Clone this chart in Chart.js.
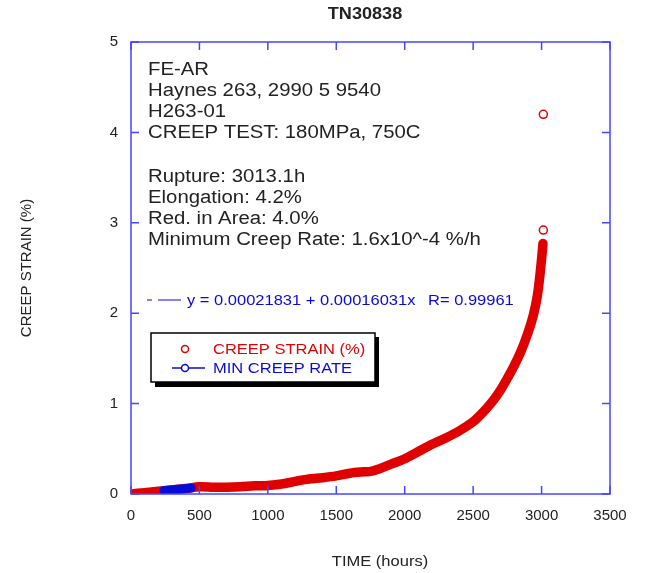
<!DOCTYPE html>
<html lang="en">
<head>
    <meta charset="UTF-8">
    <title>TN30838 Creep Test</title>
    <style>
        body {
            margin: 0;
            padding: 0;
            background-color: white;
        }
        .chart-container {
            width: 651px;
            height: 573px;
        }
    </style>
</head>
<body>
    <div class="chart-container">
        <canvas id="myChart" width="651" height="573"></canvas>
    </div>

    <script src="https://cdn.jsdelivr.net/npm/chart.js"></script>
    <script>
        // creep curve (hours, %)
        const timeHours = [0, 100, 200, 300, 400, 500, 600, 700, 800, 900, 1000, 1100, 1200, 1300, 1400, 1500, 1600, 1700, 1750, 1800, 1900, 2000, 2100, 2200, 2300, 2400, 2500, 2550, 2600, 2650, 2700, 2750, 2800, 2850, 2900, 2940, 2970, 2990, 3005, 3010];
        const creepStrain = [0.0, 0.015, 0.03, 0.045, 0.06, 0.08, 0.075, 0.075, 0.08, 0.09, 0.095, 0.11, 0.14, 0.165, 0.18, 0.2, 0.23, 0.245, 0.25, 0.27, 0.33, 0.39, 0.47, 0.55, 0.62, 0.70, 0.80, 0.87, 0.95, 1.04, 1.15, 1.28, 1.42, 1.58, 1.78, 1.98, 2.2, 2.45, 2.68, 2.77];

        // last two readings near rupture
        const ruptureTime = [3013, 3013];
        const ruptureStrain = [2.92, 4.2];

        // points used for the minimum creep rate fit
        const minRateTime = [240, 280, 320, 360, 400, 440];
        const minRateStrain = [0.04, 0.045, 0.05, 0.055, 0.06, 0.067];

        const xTicks = [0, 500, 1000, 1500, 2000, 2500, 3000, 3500];
        const yTicks = [0, 1, 2, 3, 4, 5];

        const infoLines = ['FE-AR', 'Haynes 263, 2990 5 9540', 'H263-01', 'CREEP TEST: 180MPa, 750C', '', 'Rupture: 3013.1h', 'Elongation: 4.2%', 'Red. in Area: 4.0%', 'Minimum Creep Rate: 1.6x10^-4 %/h'];

        const RED = 'rgb(225,0,0)';
        const BLUE = 'rgb(10,10,215)';
        const AXIS = 'rgb(70,70,255)';
        const FONT = '"Liberation Sans", Arial, sans-serif';

        const toPts = (xs, ys) => xs.map((x, i) => ({ x: x, y: ys[i] }));

        // the original's lettering is a bit wider than Liberation Sans
        function wideText(ctx, text, x, y, sx) {
            ctx.save();
            ctx.translate(x, y);
            ctx.scale(sx, 1);
            ctx.fillText(text, 0, 0);
            ctx.restore();
        }

        // frame, inward ticks, titles and the text boxes
        const decor = {
            id: 'decor',
            afterDraw(chart) {
                const ctx = chart.ctx;
                const a = chart.chartArea;
                const xs = chart.scales.x, ys = chart.scales.y;
                ctx.save();

                ctx.strokeStyle = AXIS;
                ctx.lineWidth = 1.5;
                ctx.strokeRect(a.left, a.top, a.right - a.left, a.bottom - a.top);
                ctx.beginPath();
                xTicks.forEach(v => {
                    const px = xs.getPixelForValue(v);
                    ctx.moveTo(px, a.bottom); ctx.lineTo(px, a.bottom - 8);
                    ctx.moveTo(px, a.top); ctx.lineTo(px, a.top + 8);
                });
                yTicks.forEach(v => {
                    const py = ys.getPixelForValue(v);
                    ctx.moveTo(a.left, py); ctx.lineTo(a.left + 8, py);
                    ctx.moveTo(a.right, py); ctx.lineTo(a.right - 8, py);
                });
                ctx.stroke();

                // title + x title
                ctx.fillStyle = '#222';
                ctx.textAlign = 'center';
                ctx.textBaseline = 'middle';
                ctx.font = 'bold 16px ' + FONT;
                wideText(ctx, 'TN30838', 365, 15, 1.13);
                ctx.font = '15px ' + FONT;
                wideText(ctx, 'TIME (hours)', 380, 562, 1.1);

                // info block
                ctx.textAlign = 'left';
                ctx.font = '18px ' + FONT;
                const lineY = [70, 91, 112, 133, 0, 177, 198, 219, 240];
                infoLines.forEach((t, i) => {
                    if (t) wideText(ctx, t, 148, lineY[i], 1.13);
                });

                // fit equation
                ctx.strokeStyle = BLUE;
                ctx.lineWidth = 1.2;
                ctx.beginPath();
                ctx.moveTo(147, 300); ctx.lineTo(152, 300);
                ctx.moveTo(158, 300); ctx.lineTo(181, 300);
                ctx.stroke();
                ctx.fillStyle = BLUE;
                ctx.font = '15px ' + FONT;
                wideText(ctx, 'y = 0.00021831 + 0.00016031x', 187, 301, 1.1);
                wideText(ctx, 'R= 0.99961', 428, 301, 1.1);

                // legend box with shadow
                ctx.fillStyle = '#000';
                ctx.fillRect(155, 337, 224, 50);
                ctx.fillStyle = '#fff';
                ctx.fillRect(151, 333, 224, 49);
                ctx.strokeStyle = '#000';
                ctx.lineWidth = 1.5;
                ctx.strokeRect(151, 333, 224, 49);

                ctx.lineWidth = 1.5;
                ctx.strokeStyle = RED;
                ctx.beginPath();
                ctx.arc(185, 349, 3.5, 0, Math.PI * 2);
                ctx.stroke();
                ctx.strokeStyle = BLUE;
                ctx.beginPath();
                ctx.moveTo(172, 368); ctx.lineTo(181, 368);
                ctx.moveTo(189, 368); ctx.lineTo(205, 368);
                ctx.stroke();
                ctx.beginPath();
                ctx.arc(185, 368, 3.5, 0, Math.PI * 2);
                ctx.stroke();

                ctx.font = '15px ' + FONT;
                ctx.fillStyle = RED;
                wideText(ctx, 'CREEP STRAIN (%)', 213, 350, 1.1);
                ctx.fillStyle = BLUE;
                wideText(ctx, 'MIN CREEP RATE', 213, 369, 1.1);

                ctx.restore();
            }
        };

        const ctx = document.getElementById('myChart').getContext('2d');
        const chart = new Chart(ctx, {
            type: 'scatter',
            data: {
                datasets: [{
                    label: 'MIN CREEP RATE',
                    data: toPts(minRateTime, minRateStrain),
                    showLine: true,
                    borderColor: BLUE,
                    borderWidth: 9,
                    borderCapStyle: 'round',
                    pointRadius: 0,
                    order: 0
                }, {
                    label: 'CREEP STRAIN (%)',
                    data: toPts(timeHours, creepStrain),
                    showLine: true,
                    borderColor: RED,
                    borderWidth: 9.5,
                    borderCapStyle: 'round',
                    borderJoinStyle: 'round',
                    pointRadius: 0,
                    tension: 0.3,
                    order: 2
                }, {
                    label: 'rupture',
                    data: toPts(ruptureTime, ruptureStrain),
                    showLine: false,
                    pointRadius: 4,
                    borderWidth: 1.5,
                    borderColor: RED,
                    backgroundColor: 'rgba(0,0,0,0)',
                    order: 1
                }]
            },
            options: {
                responsive: false,
                animation: false,
                layout: { padding: { left: 0, right: 41, top: 42, bottom: 0 } },
                plugins: {
                    legend: { display: false },
                    tooltip: { enabled: false }
                },
                scales: {
                    x: {
                        type: 'linear',
                        min: 0,
                        max: 3500,
                        afterFit: s => { s.height = 79; },
                        afterBuildTicks: s => { s.ticks = xTicks.map(v => ({ value: v })); },
                        grid: { display: false, drawTicks: false },
                        border: { display: false },
                        ticks: {
                            padding: 13,
                            color: '#222',
                            font: { family: FONT, size: 15 },
                            maxRotation: 0,
                            callback: v => String(v)
                        }
                    },
                    y: {
                        min: 0,
                        max: 5,
                        afterFit: s => { s.width = 131; },
                        afterBuildTicks: s => { s.ticks = yTicks.map(v => ({ value: v })); },
                        grid: { display: false, drawTicks: false },
                        border: { display: false },
                        ticks: {
                            padding: 13,
                            color: '#222',
                            font: { family: FONT, size: 15 },
                            callback: v => String(v)
                        },
                        title: {
                            display: true,
                            text: 'CREEP STRAIN (%)',
                            color: '#222',
                            font: { family: FONT, size: 15 },
                            padding: { top: 18, bottom: 0 }
                        }
                    }
                }
            },
            plugins: [decor]
        });
    </script>
</body>
</html>
